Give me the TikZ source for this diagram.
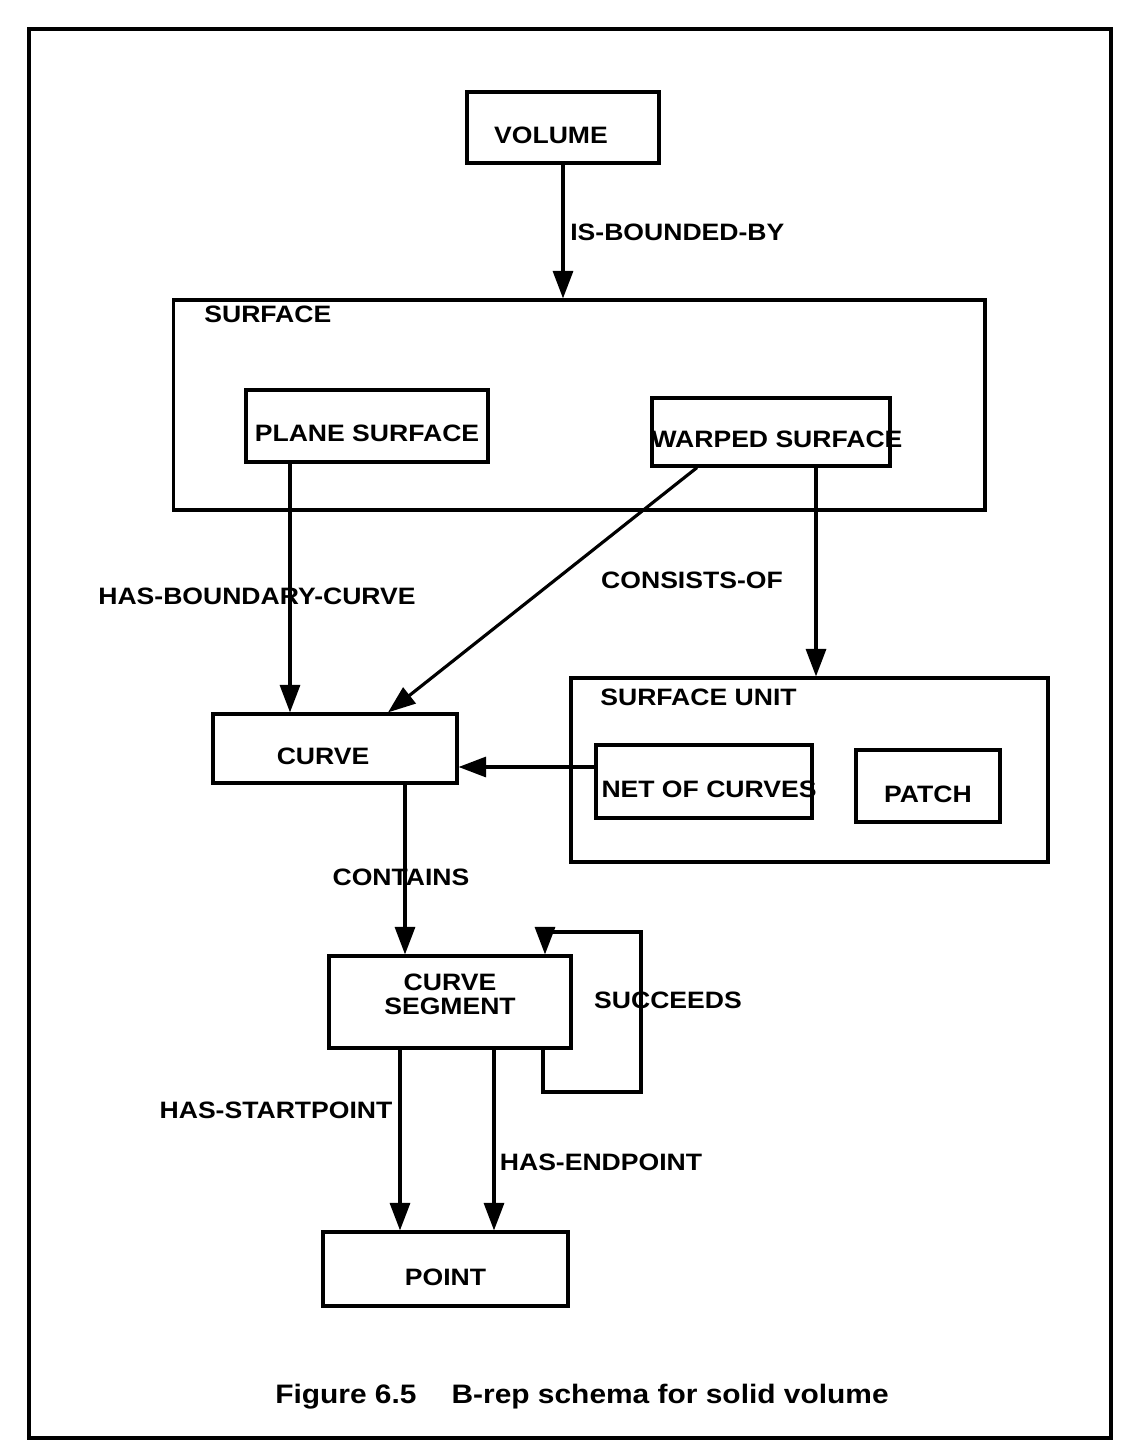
\documentclass[tikz,border=0pt]{standalone}
\usepackage{fontspec}
\usetikzlibrary{arrows.meta,positioning}
\newfontfamily\schemafont[FakeStretch=1.12]{Liberation Sans}
\newcommand{\diagfont}{\schemafont\bfseries\fontsize{13.5}{13.5}\selectfont}
\newcommand{\capfont}{\schemafont\bfseries\fontsize{15.2}{18}\selectfont}
\tikzset{
  box/.style   = {rectangle, draw=black, line width=1.8pt, inner sep=0pt,
                  align=center, font=\diagfont, text height=0.64cm, text depth=0cm},
  groupbox/.style = {rectangle, draw=black, line width=1.8pt, inner sep=0pt},
  lab/.style   = {font=\diagfont, inner sep=0pt},
  ar/.style    = {-{Triangle[length=5.5mm,width=4mm]}, draw=black, line width=1.8pt}
}
\begin{document}
\begin{tikzpicture}[x=0.02cm, y=-0.02cm]
    \useasboundingbox (0,0) rectangle (1129,1449);
    \draw[line width=1.8pt] (29,29) rectangle (1111,1438);
    \node[box, minimum width=3.84cm, minimum height=1.42cm] (volume) at (563,127.5) {\makebox[0pt]{\hspace{-0.48cm}VOLUME}};
    \node[groupbox, minimum width=16.24cm, minimum height=4.2cm] (surface) at (579,405) {};
    \node[lab, anchor=west] (surfacelab) at (204,314) {SURFACE};
    \node[box, minimum width=4.84cm, minimum height=1.44cm] (plane) at (367,426) {PLANE SURFACE};
    \node[box, minimum width=4.76cm, minimum height=1.36cm] (warped) at (771,432) {\makebox[0pt]{\hspace{0.24cm}WARPED SURFACE}};
    \node[box, minimum width=4.88cm, minimum height=1.38cm] (curve) at (335,748.5) {\makebox[0pt]{\hspace{-0.48cm}CURVE}};
    \node[groupbox, minimum width=9.54cm, minimum height=3.68cm] (unit) at (809.5,770) {};
    \node[lab, anchor=west] (unitlab) at (600,697) {SURFACE UNIT};
    \node[box, minimum width=4.32cm, minimum height=1.46cm] (net) at (704,781.5) {\makebox[0pt]{\hspace{0.2cm}NET OF CURVES}};
    \node[box, minimum width=2.88cm, minimum height=1.44cm] (patch) at (928,786) {PATCH};
    \node[box, minimum width=4.84cm, minimum height=1.84cm, text height=0.5cm] (seg) at (450,1002) {CURVE\\SEGMENT};
    \node[box, minimum width=4.9cm, minimum height=1.48cm] (point) at (445.5,1269) {POINT};

    \draw[ar] (volume) -- (volume |- surface.north);
    \draw[ar] (plane.south -| 290,0) -- (curve.north -| 290,0);
    \draw[ar] (warped.south -| 697,0) -- (curve.north -| 388,0);
    \draw[ar] (warped.south -| 816,0) -- (unit.north -| 816,0);
    \draw[ar] (net.west |- 0,767) -- (curve.east |- 0,767);
    \draw[ar] (curve.south -| 405,0) -- (seg.north -| 405,0);
    \draw[ar] (seg.south -| 543,0) |- (641,1092) |- (545,932) -- (seg.north -| 545,0);
    \draw[ar] (seg.south -| 400,0) -- (point.north -| 400,0);
    \draw[ar] (seg.south -| 494,0) -- (point.north -| 494,0);

    \node[lab, anchor=west] (bounded) at (570,232) {IS-BOUNDED-BY};
    \node[lab] (boundary) at (257,596) {HAS-BOUNDARY-CURVE};
    \node[lab] (consists) at (692,580) {CONSISTS-OF};
    \node[lab] (contains) at (401,877) {CONTAINS};
    \node[lab] (succeeds) at (668,1000) {SUCCEEDS};
    \node[lab] (startpt) at (276,1110) {HAS-STARTPOINT};
    \node[lab] (endpt) at (601,1162) {HAS-ENDPOINT};
    \node[font=\capfont, inner sep=0pt] (caption) at (582,1397) {Figure 6.5\hspace{0.7cm}B-rep schema for solid volume};
  \end{tikzpicture}
\end{document}
